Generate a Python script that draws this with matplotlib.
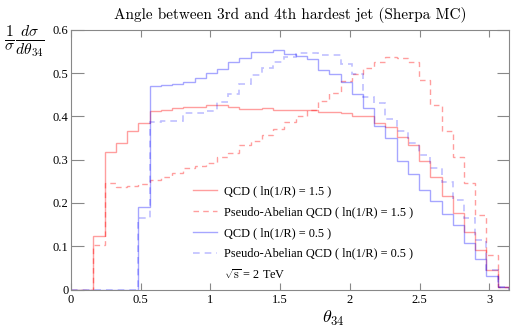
import numpy as np
import matplotlib
matplotlib.use("Agg")
import matplotlib.pyplot as plt
from matplotlib.lines import Line2D

plt.rcParams['mathtext.fontset'] = 'cm'

# 39 bins of width pi/39 from 0 to pi
edges = np.linspace(0, np.pi, 40)

qcd_15 = [0, 0, 0.124, 0.318, 0.339, 0.366, 0.386, 0.412, 0.416, 0.419,
          0.421, 0.423, 0.426, 0.426, 0.423, 0.417, 0.417, 0.419, 0.416, 0.415,
          0.416, 0.416, 0.410, 0.410, 0.409, 0.402, 0.400, 0.385, 0.375, 0.353,
          0.334, 0.298, 0.260, 0.216, 0.177, 0.133, 0.091, 0.045, 0.005]
pseudo_15 = [0, 0, 0.104, 0.247, 0.238, 0.240, 0.243, 0.252, 0.260, 0.270,
             0.281, 0.285, 0.293, 0.306, 0.316, 0.333, 0.344, 0.357, 0.371, 0.388,
             0.400, 0.416, 0.436, 0.455, 0.482, 0.499, 0.513, 0.526, 0.538, 0.536,
             0.525, 0.484, 0.427, 0.367, 0.306, 0.246, 0.173, 0.079, 0.005]
qcd_05 = [0, 0, 0, 0, 0, 0, 0.190, 0.471, 0.472, 0.474,
          0.479, 0.488, 0.500, 0.509, 0.525, 0.535, 0.548, 0.549, 0.553, 0.544,
          0.540, 0.532, 0.508, 0.499, 0.480, 0.452, 0.419, 0.378, 0.350, 0.298,
          0.267, 0.229, 0.205, 0.175, 0.150, 0.108, 0.071, 0.031, 0.005]
pseudo_05 = [0, 0, 0, 0, 0, 0, 0.166, 0.387, 0.389, 0.390,
             0.408, 0.408, 0.413, 0.434, 0.453, 0.475, 0.495, 0.511, 0.525, 0.538,
             0.546, 0.546, 0.541, 0.541, 0.522, 0.499, 0.444, 0.432, 0.393, 0.367,
             0.338, 0.311, 0.282, 0.248, 0.206, 0.165, 0.114, 0.046, 0.005]

labels = ["QCD ( ln(1/R) = 1.5 )",
          "Pseudo-Abelian QCD ( ln(1/R) = 1.5 )",
          "QCD ( ln(1/R) = 0.5 )",
          "Pseudo-Abelian QCD ( ln(1/R) = 0.5 )"]
xticks = [0, 0.5, 1, 1.5, 2, 2.5, 3]
yticks = [0, 0.1, 0.2, 0.3, 0.4, 0.5, 0.6]

fig = plt.figure(figsize=(5.11, 3.29), dpi=100)
ax = fig.add_axes([0.139, 0.120, 0.857, 0.789])

dash = (0, (4, 3))
styles = [dict(color='red', alpha=0.38, lw=1.0),
          dict(color='red', alpha=0.38, lw=1.0, ls=dash),
          dict(color='blue', alpha=0.35, lw=1.0),
          dict(color='blue', alpha=0.25, lw=1.2, ls=dash)]
for vals, st, lab in zip([qcd_15, pseudo_15, qcd_05, pseudo_05], styles, labels):
    ax.stairs(vals, edges, label=lab, **st)

ax.set_xlim(0, np.pi)
ax.set_ylim(0, 0.6)
ax.set_xticks(xticks)
ax.set_xticklabels([str(t) for t in xticks], family='Liberation Serif', fontsize=9)
ax.set_yticks(yticks)
ax.set_yticklabels([str(t) for t in yticks], family='Liberation Serif', fontsize=9)
ax.tick_params(axis='x', direction='in', length=5, top=True, color='#888888', pad=3)
ax.tick_params(axis='y', direction='in', length=9, right=True, color='#888888', pad=2)
for s in ax.spines.values():
    s.set_color('#888888')

ax.set_title("Angle between 3rd and 4th hardest jet (Sherpa MC)",
             family='cmr10', fontsize=11, pad=8)
ax.set_xlabel(r"$\theta_{34}$", fontsize=13, x=0.6, labelpad=2)
fig.text(0.008, 0.93, r"$\frac{1}{\sigma}\frac{d\sigma}{d\theta_{34}}$",
         fontsize=16, va='top', ha='left')

handles = [Line2D([], [], **st) for st in styles] + [Line2D([], [], color='none')]
leg = ax.legend(handles, labels + [r"$\sqrt{\mathrm{s}}$ = 2 TeV"],
                loc='upper left', bbox_to_anchor=(0.267, 0.42), frameon=False,
                prop={'family': 'Liberation Serif', 'size': 8.8},
                handlelength=2.0, handletextpad=0.55, labelspacing=0.72,
                borderaxespad=0)

fig.savefig("out.png", dpi=100)
